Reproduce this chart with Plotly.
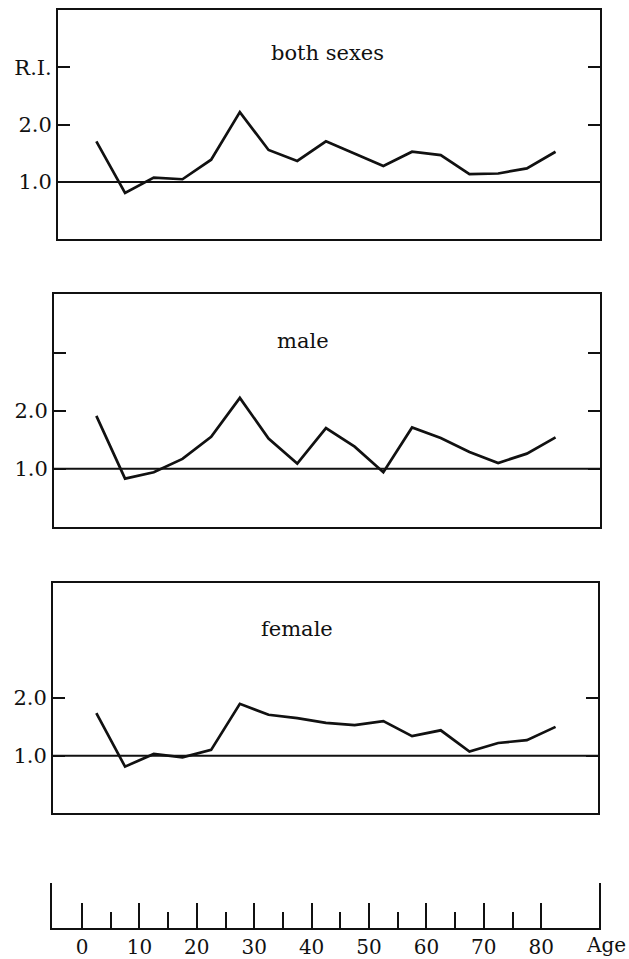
import plotly.graph_objects as go

# ---- data ----
ages = [2.5, 7.5, 12.5, 17.5, 22.5, 27.5, 32.5, 37.5, 42.5, 47.5,
        52.5, 57.5, 62.5, 67.5, 72.5, 77.5, 82.5]
ri_both = [1.71, 0.81, 1.08, 1.05, 1.39, 2.22, 1.56, 1.37, 1.71, 1.49,
           1.28, 1.53, 1.47, 1.14, 1.15, 1.24, 1.53]
ri_male = [1.91, 0.83, 0.94, 1.17, 1.55, 2.22, 1.52, 1.09, 1.70, 1.38,
           0.94, 1.71, 1.53, 1.29, 1.10, 1.26, 1.54]
ri_female = [1.74, 0.81, 1.03, 0.97, 1.10, 1.90, 1.71, 1.65, 1.57, 1.53,
             1.60, 1.34, 1.44, 1.07, 1.22, 1.27, 1.50]
panel_titles = ["both sexes", "male", "female"]
age_ticks = [0, 10, 20, 30, 40, 50, 60, 70, 80]
age_minor = [5, 15, 25, 35, 45, 55, 65, 75]

W, H = 629, 959
FONT = "DejaVu Serif"
BLACK = "#111111"

# pixel -> age mapping of the common age scale
AGE0_PX, PX_PER_YEAR = 82.0, 5.74


def xr(px0, px1):
    return [(px0 - AGE0_PX) / PX_PER_YEAR, (px1 - AGE0_PX) / PX_PER_YEAR]


def xd(px0, px1):
    return [px0 / W, px1 / W]


def yd(top, bottom):
    return [1 - bottom / H, 1 - top / H]


panels = [
    dict(y=ri_both, xpx=(58, 600), ypx=(10, 240),
         tickvals=[1, 2, 3], ticktext=["1.0", "2.0", "R.I."],
         title_xy=(327, 53)),
    dict(y=ri_male, xpx=(54, 600), ypx=(295, 528),
         tickvals=[1, 2, 3], ticktext=["1.0", "2.0", ""],
         title_xy=(303, 342)),
    dict(y=ri_female, xpx=(53, 598), ypx=(584, 815),
         tickvals=[1, 2], ticktext=["1.0", "2.0"],
         title_xy=(297, 630)),
]

fig = go.Figure()
layout = {}
annotations = []
shapes = []

for i, p in enumerate(panels):
    n = "" if i == 0 else str(i + 1)
    fig.add_trace(go.Scatter(
        x=ages, y=p["y"], mode="lines",
        line=dict(color=BLACK, width=2.7),
        xaxis="x" + n, yaxis="y" + n, showlegend=False,
        hoverinfo="skip"))
    layout["xaxis" + n] = dict(
        domain=xd(*p["xpx"]), range=xr(*p["xpx"]),
        showline=True, mirror=True, linecolor=BLACK, linewidth=2,
        showgrid=False, zeroline=False, ticks="", showticklabels=False,
        anchor="y" + n, fixedrange=True)
    layout["yaxis" + n] = dict(
        domain=yd(*p["ypx"]), range=[0, 4],
        showline=True, mirror="ticks", linecolor=BLACK, linewidth=2,
        showgrid=False, zeroline=False,
        ticks="inside", ticklen=12, tickwidth=2, tickcolor=BLACK,
        tickvals=p["tickvals"], ticktext=p["ticktext"],
        tickfont=dict(family=FONT, size=21, color=BLACK),
        ticklabelstandoff=0,
        anchor="x" + n, fixedrange=True)
    shapes.append(dict(type="line", xref="x" + n + " domain", yref="y" + n,
                       x0=0, x1=1, y0=1, y1=1,
                       line=dict(color=BLACK, width=2)))
    tx, ty = p["title_xy"]
    annotations.append(dict(text=panel_titles[i], x=tx / W, y=1 - ty / H,
                            xref="paper", yref="paper", showarrow=False,
                            xanchor="center", yanchor="middle",
                            font=dict(family=FONT, size=21, color=BLACK)))

# bottom age axis panel
layout["xaxis4"] = dict(
    domain=xd(52, 599), range=xr(52, 599),
    showline=True, mirror=False, linecolor=BLACK, linewidth=2,
    showgrid=False, zeroline=False,
    ticks="inside", ticklen=25, tickwidth=2, tickcolor=BLACK,
    tickvals=age_ticks, ticktext=[str(a) for a in age_ticks],
    tickfont=dict(family=FONT, size=20, color=BLACK),
    minor=dict(tickvals=age_minor, ticks="inside", ticklen=16,
               tickwidth=2, tickcolor=BLACK),
    anchor="y4", fixedrange=True)
layout["yaxis4"] = dict(
    domain=yd(885, 930), range=[0, 1],
    showline=True, mirror=True, linecolor=BLACK, linewidth=2,
    showgrid=False, zeroline=False, ticks="", showticklabels=False,
    anchor="x4", fixedrange=True)
fig.add_trace(go.Scatter(x=[None], y=[None], xaxis="x4", yaxis="y4",
                         showlegend=False, hoverinfo="skip"))
annotations.append(dict(text="Age", x=606 / W, y=1 - 947 / H,
                        xref="paper", yref="paper", showarrow=False,
                        xanchor="center", yanchor="middle",
                        font=dict(family=FONT, size=20, color=BLACK)))

fig.update_layout(
    width=W, height=H,
    margin=dict(l=0, r=0, t=0, b=0),
    paper_bgcolor="white", plot_bgcolor="white",
    annotations=annotations, shapes=shapes,
    showlegend=False,
    **layout)

fig.write_html("out.html", config=dict(displayModeBar=False))
